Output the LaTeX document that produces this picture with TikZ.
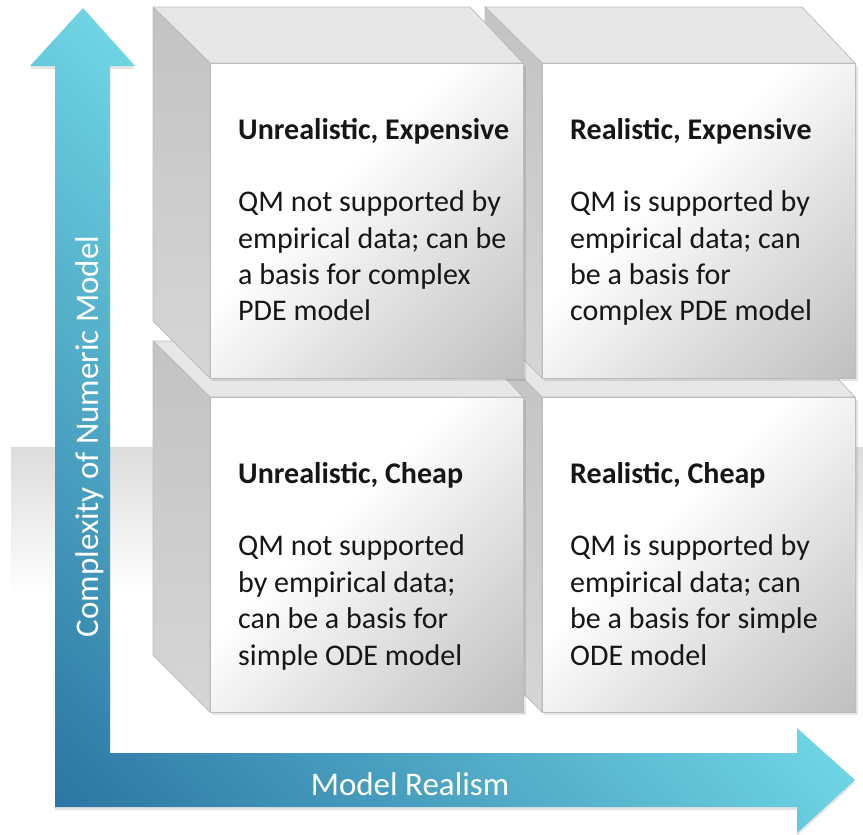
\documentclass[tikz,border=0pt]{standalone}
\usepackage{fontspec}
\setmainfont{Carlito}
\usetikzlibrary{calc}
\definecolor{adark}{HTML}{2C76A3}
\definecolor{alight}{HTML}{6ED4E3}
\definecolor{txt}{HTML}{161616}
\definecolor{edgegray}{HTML}{BDBDBD}
\definecolor{topgray}{HTML}{E7E7E7}
\definecolor{fdark}{HTML}{C0C0C0}
\definecolor{fmid}{HTML}{E0E0E0}
\definecolor{ltop}{HTML}{C3C3C3}
\definecolor{lbot}{HTML}{D6D6D6}
\definecolor{bandgray}{HTML}{DCDCDC}
\pgfdeclarehorizontalshading{Lshade}{100bp}{color(0bp)=(adark); color(17bp)=(adark); color(52bp)=(alight); color(100bp)=(alight)}
\pgfdeclareverticalshading{frontshade}{100bp}{color(0bp)=(fdark); color(15bp)=(fdark); color(38bp)=(fmid); color(58bp)=(white); color(100bp)=(white)}
\pgfdeclareverticalshading{leftshade}{100bp}{color(0bp)=(lbot); color(25bp)=(lbot); color(75bp)=(ltop); color(100bp)=(ltop)}
\tikzset{
  topface/.style={fill=topgray, draw=edgegray, line width=0.8pt, line join=round},
  leftface/.style={shading=leftshade, draw=edgegray, line width=0.8pt, line join=round},
  frontface/.style={shading=frontshade, shading angle=45, draw=edgegray, line width=0.8pt},
  softshadow/.style={fill=black, opacity=0.10},
  celltext/.style={inner sep=0pt, anchor=base west, text=txt, font=\fontsize{30}{36.4}\selectfont},
  axislabel/.style={inner sep=0pt, anchor=base, text=white, font=\fontsize{33}{40}\selectfont},
}
\newcommand{\drawcube}[2]{%
  \fill[softshadow] ({#1+2},{#2+3}) rectangle ({#1+316},{#2+318});
  \draw[topface] ({#1-57},{#2-56}) -- ({#1+260},{#2-56}) -- ({#1+313},#2) -- (#1,#2) -- cycle;
  \shade[leftface] ({#1-57},{#2-56}) -- (#1,#2) -- (#1,{#2+315}) -- ({#1-57},{#2+258}) -- cycle;
  \shade[frontface] (#1,#2) rectangle ({#1+313},{#2+315});
}
\begin{document}
\begin{tikzpicture}[x=1pt,y=-1pt]
\useasboundingbox (0,0) rectangle (863,835);
% background band
\shade[top color=bandgray, bottom color=white] (11,447) rectangle (863,597);
% L-shaped axis arrow (shadow, then arrow)
\fill[softshadow] (83,11) -- (135,69) -- (110,69) -- (110,756) -- (797,756) -- (797,731) -- (855,783) -- (797,836) -- (797,810) -- (55,810) -- (55,69) -- (30,69) -- cycle;
\shade[shading=Lshade, shading angle=45] (83,8) -- (135,66) -- (110,66) -- (110,753) -- (797,753) -- (797,728) -- (855,780) -- (797,833) -- (797,807) -- (55,807) -- (55,66) -- (30,66) -- cycle;
% cubes (back to front)
\drawcube{542}{397}
\drawcube{210}{397}
\drawcube{542}{63}
\drawcube{210}{63}
% texts
\node[celltext] (ue) at (238,139) {\vtop{\hbox{\bfseries Unrealistic, Expensive}\hbox{}\hbox{QM not supported by}\hbox{empirical data; can be}\hbox{a basis for complex}\hbox{PDE model}}};
\node[celltext] (re) at (570,139) {\vtop{\hbox{\bfseries Realistic, Expensive}\hbox{}\hbox{QM is supported by}\hbox{empirical data; can}\hbox{be a basis for}\hbox{complex PDE model}}};
\node[celltext] (uc) at (238,483) {\vtop{\hbox{\bfseries Unrealistic, Cheap}\hbox{}\hbox{QM not supported}\hbox{by empirical data;}\hbox{can be a basis for}\hbox{simple ODE model}}};
\node[celltext] (rc) at (570,483) {\vtop{\hbox{\bfseries Realistic, Cheap}\hbox{}\hbox{QM is supported by}\hbox{empirical data; can}\hbox{be a basis for simple}\hbox{ODE model}}};
% axis labels
\node[axislabel, rotate=90] (ylab) at (98,436.5) {Complexity of Numeric Model};
\node[axislabel] (xlab) at (410,795) {Model Realism};
\end{tikzpicture}
\end{document}
